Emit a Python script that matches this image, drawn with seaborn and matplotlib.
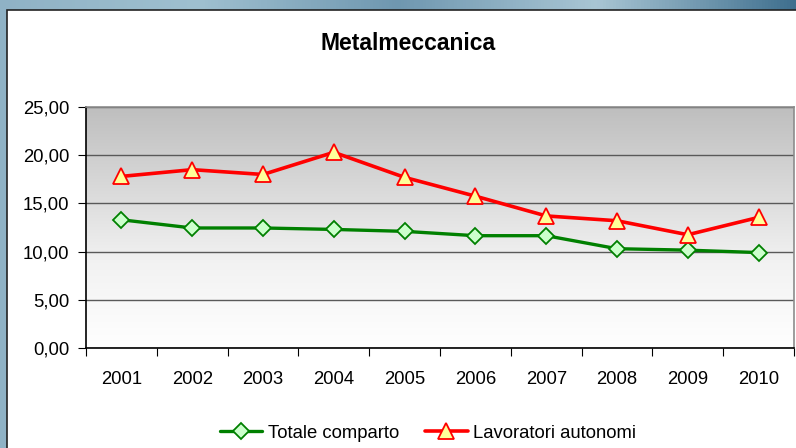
import numpy as np
import pandas as pd
import seaborn as sns
import matplotlib.pyplot as plt
from matplotlib.colors import LinearSegmentedColormap
from matplotlib.patches import Rectangle

# data
anni = ['2001', '2002', '2003', '2004', '2005', '2006', '2007', '2008', '2009', '2010']
totale = [13.3, 12.45, 12.45, 12.3, 12.1, 11.65, 11.65, 10.3, 10.15, 9.9]
autonomi = [17.8, 18.5, 18.0, 20.3, 17.7, 15.75, 13.7, 13.2, 11.75, 13.55]
yticks = [0, 5, 10, 15, 20, 25]

sns.set_style('white')
plt.rcParams['font.family'] = ['Liberation Sans', 'DejaVu Sans']
plt.rcParams['text.color'] = 'black'
plt.rcParams['xtick.color'] = 'black'
plt.rcParams['ytick.color'] = 'black'

W, H = 796, 448
fig = plt.figure(figsize=(W / 100, H / 100), dpi=100)

# blue background behind the white chart box
bg = fig.add_axes([0, 0, 1, 1], zorder=-10)
bg_cmap = LinearSegmentedColormap.from_list(
    'bg', ['#8fb2c5', '#9fc0d0', '#6f97b0', '#a9c6d4', '#3f6f8e'])
bg.imshow(np.linspace(0, 1, 256).reshape(1, -1), cmap=bg_cmap, aspect='auto',
          extent=(0, 1, 0, 1))
bg.add_patch(Rectangle((7.5 / W, -0.05), 1.1, 1.05 - 10.5 / H, facecolor='white',
                       edgecolor='#222222', lw=1.2, transform=bg.transAxes))
bg.set_xlim(0, 1)
bg.set_ylim(0, 1)
bg.axis('off')

ax = fig.add_axes([86 / W, 100 / H, 708 / W, 241 / H], zorder=1)
ax.set_facecolor('none')

# grey-to-white plot area gradient
area_cmap = LinearSegmentedColormap.from_list(
    'area', [(0, '#ffffff'), (0.35, '#f2f2f2'), (0.7, '#d6d6d6'), (1, '#bebebe')])
ax.imshow(np.linspace(0, 1, 256).reshape(-1, 1), cmap=area_cmap, aspect='auto',
          origin='lower', extent=(-0.5, 9.5, 0, 25), zorder=0)

x = np.arange(len(anni))
sns.lineplot(x=x, y=totale, ax=ax, color='#008000', lw=2.4, marker='D',
             markersize=8, markerfacecolor='#ccffcc', markeredgecolor='#008000',
             markeredgewidth=1.3, label='Totale comparto', zorder=3)
sns.lineplot(x=x, y=autonomi, ax=ax, color='#ff0000', lw=2.6, marker='^',
             markersize=11, markerfacecolor='#ffff99', markeredgecolor='#ff0000',
             markeredgewidth=1.3, label='Lavoratori autonomi', zorder=3)

ax.set_xlim(-0.5, 9.5)
ax.set_ylim(0, 25)

ax.set_xticks(np.arange(-0.5, 10, 1))
ax.set_xticklabels([])
ax.set_xticks(x, minor=True)
ax.set_xticklabels(anni, minor=True)
ax.tick_params(axis='x', which='major', length=6, direction='out', color='black',
               bottom=True)
ax.tick_params(axis='x', which='minor', length=0, pad=16.5, labelsize=13.3)

ax.set_yticks(yticks)
ax.set_yticklabels([f'{v:.2f}'.replace('.', ',') for v in yticks])
ax.tick_params(axis='y', length=6, direction='out', color='black', left=True,
               pad=6, labelsize=13.3)

ax.set_axisbelow(True)
ax.yaxis.grid(True, color='#595959', lw=1)
ax.xaxis.grid(False)

for s in ['left', 'bottom']:
    ax.spines[s].set_color('black')
    ax.spines[s].set_linewidth(1.2)
for s in ['top', 'right']:
    ax.spines[s].set_color('#8c8c8c')
    ax.spines[s].set_linewidth(1.2)

fig.text(408 / W, 1 - 44 / H, 'Metalmeccanica', ha='center', va='center',
         fontsize=16.5, fontweight='bold')

ax.legend(loc='center', bbox_to_anchor=(428 / W, 1 - 433 / H),
          bbox_transform=fig.transFigure, ncol=2, frameon=False, fontsize=13.3,
          handlelength=2.3, handletextpad=0.3, columnspacing=1.4)

fig.savefig('out.png', dpi=100)
